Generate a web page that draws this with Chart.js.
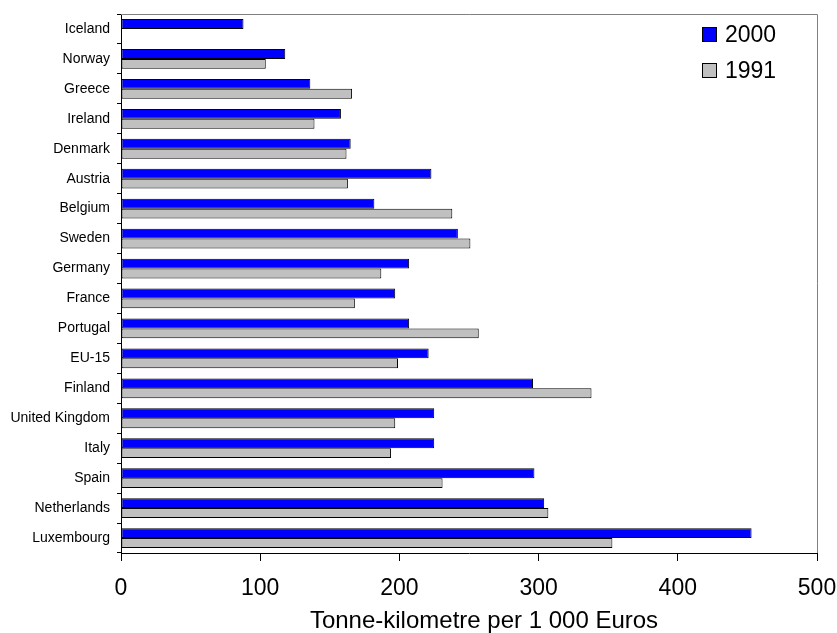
<!DOCTYPE html>
<html>
<head>
<meta charset="utf-8">
<script src="https://cdn.jsdelivr.net/npm/chart.js@4/dist/chart.umd.min.js"></script>
<style>
  html, body { margin: 0; padding: 0; background: #ffffff; }
  #wrap { width: 837px; height: 633px; }
</style>
</head>
<body>
<div id="wrap"><canvas id="c" width="837" height="633"></canvas></div>
<script>
// Freight intensity: tonne-kilometres per 1 000 Euros of GDP
const countries = [
  "Iceland", "Norway", "Greece", "Ireland", "Denmark", "Austria", "Belgium",
  "Sweden", "Germany", "France", "Portugal", "EU-15", "Finland",
  "United Kingdom", "Italy", "Spain", "Netherlands", "Luxembourg"
];
const values2000 = [88, 118, 136, 158, 165, 223, 182, 242, 207, 197, 207, 221, 296, 225, 225, 297, 304, 453];
const values1991 = [null, 104, 166, 139, 162, 163, 238, 251, 187, 168, 257, 199, 338, 197, 194, 231, 307, 353];
const seriesNames = ["2000", "1991"];
const seriesColors = ["#0000ff", "#c0c0c0"];
const xTicks = [0, 100, 200, 300, 400, 500];
const axisTitle = "Tonne-kilometre per 1 000 Euros";

const FONT = "'Liberation Sans', Arial, sans-serif";

// Grey frame along the top and right of the plot area
const frame = {
  id: "frame",
  beforeDatasetsDraw(chart) {
    const { ctx, chartArea: a } = chart;
    ctx.save();
    ctx.strokeStyle = "#808080";
    ctx.lineWidth = 1;
    ctx.beginPath();
    ctx.moveTo(a.left, a.top + 0.5);
    ctx.lineTo(a.right + 0.5, a.top + 0.5);
    ctx.lineTo(a.right + 0.5, a.bottom);
    ctx.stroke();
    ctx.restore();
  }
};

// Legend boxes in the upper right corner, plus the axis caption
const legendAndCaption = {
  id: "legendAndCaption",
  afterDraw(chart) {
    const { ctx } = chart;
    ctx.save();
    chart.data.datasets.forEach((ds, i) => {
      const y = 27 + i * 36;
      ctx.fillStyle = ds.backgroundColor;
      ctx.fillRect(702, y, 15, 15);
      ctx.strokeStyle = "#000000";
      ctx.lineWidth = 1;
      ctx.strokeRect(702.5, y + 0.5, 14, 14);
      ctx.fillStyle = "#000000";
      ctx.font = "23px " + FONT;
      ctx.textBaseline = "middle";
      ctx.textAlign = "left";
      ctx.fillText(ds.label, 725, y + 8.5);
    });
    ctx.font = "24px " + FONT;
    ctx.textAlign = "center";
    ctx.textBaseline = "middle";
    ctx.fillStyle = "#000000";
    ctx.fillText(axisTitle, 484, 621);
    ctx.restore();
  }
};

new Chart(document.getElementById("c"), {
  type: "bar",
  data: {
    labels: countries,
    datasets: [
      { label: seriesNames[0], data: values2000, backgroundColor: seriesColors[0], borderColor: "#000000", borderWidth: 1, borderSkipped: false },
      { label: seriesNames[1], data: values1991, backgroundColor: seriesColors[1], borderColor: "#000000", borderWidth: 1, borderSkipped: false }
    ]
  },
  options: {
    indexAxis: "y",
    responsive: false,
    animation: false,
    devicePixelRatio: 1,
    categoryPercentage: 0.66,
    barPercentage: 1.0,
    layout: { padding: { left: 0, top: 14, right: 0, bottom: 0 } },
    plugins: {
      legend: { display: false },
      tooltip: { enabled: false }
    },
    scales: {
      x: {
        type: "linear",
        min: xTicks[0],
        max: xTicks[xTicks.length - 1],
        afterBuildTicks(scale) { scale.ticks = xTicks.map(v => ({ value: v })); },
        afterFit(scale) {
          scale.height = 80;
          scale.paddingLeft = 0;
          scale.paddingRight = 20;
        },
        ticks: { color: "#000000", font: { family: FONT, size: 23 }, padding: 14, maxRotation: 0 },
        grid: { display: true, drawOnChartArea: false, drawTicks: true, tickLength: 8, color: "#000000", lineWidth: 1 },
        border: { display: true, color: "#000000", width: 1 }
      },
      y: {
        type: "category",
        afterFit(scale) {
          scale.width = 121;
          scale.paddingTop = 0;
          scale.paddingBottom = 0;
        },
        ticks: { color: "#000000", font: { family: FONT, size: 14 }, padding: 7, autoSkip: false },
        grid: { display: true, offset: true, drawOnChartArea: false, drawTicks: true, tickLength: 4, color: "#000000", lineWidth: 1 },
        border: { display: true, color: "#000000", width: 1 }
      }
    }
  },
  plugins: [frame, legendAndCaption]
});
</script>
</body>
</html>
